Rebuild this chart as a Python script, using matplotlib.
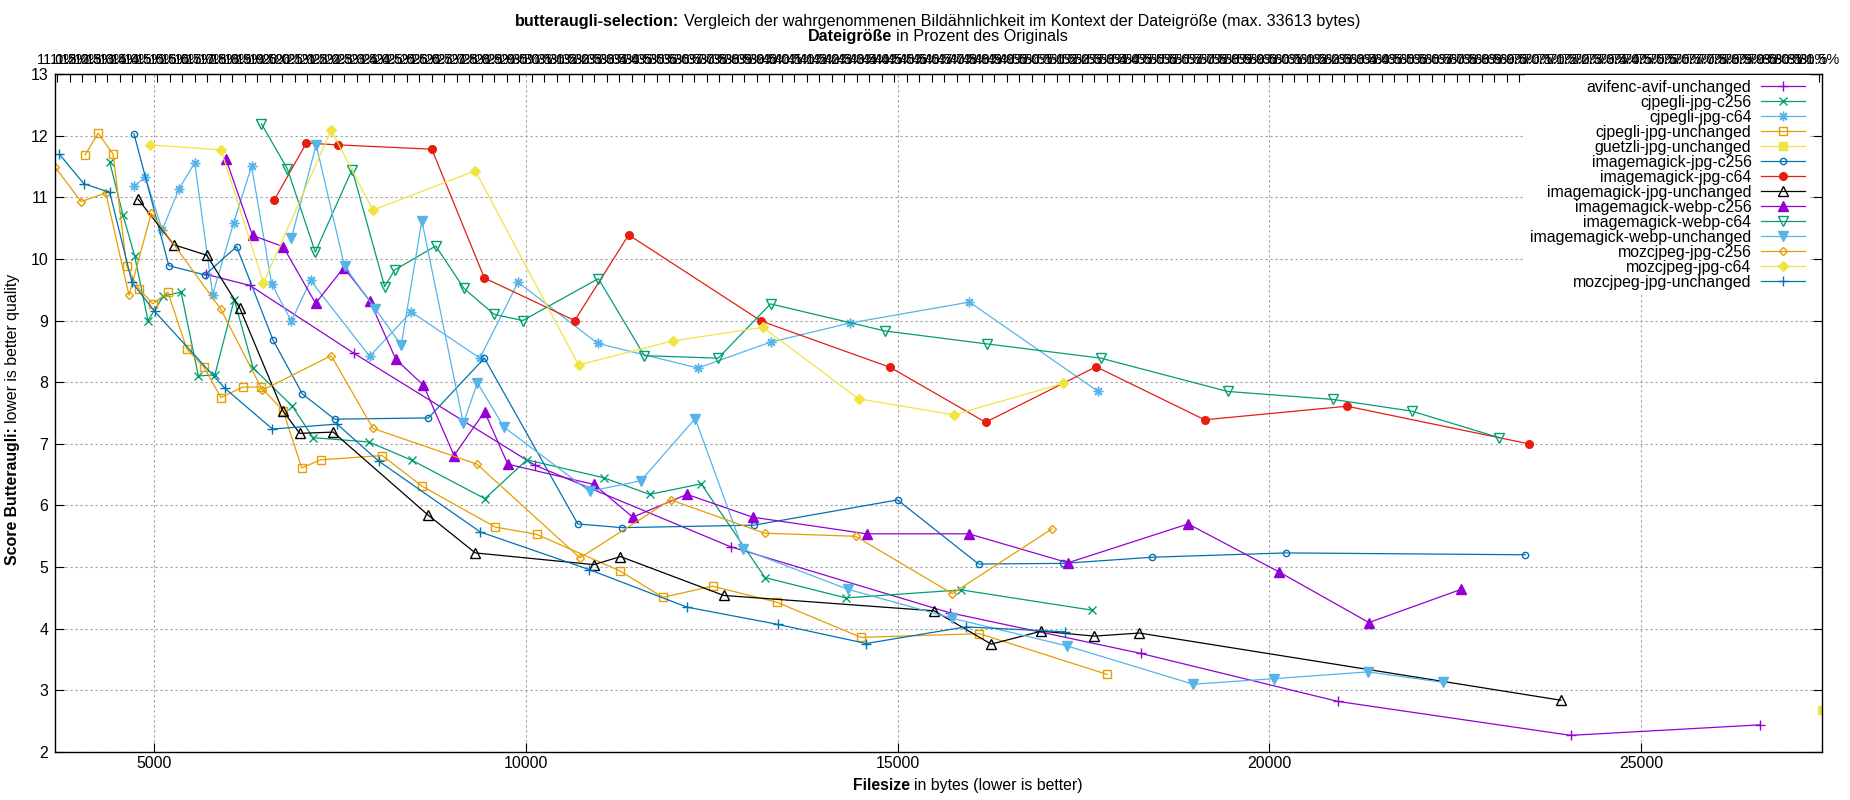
import numpy as np
import matplotlib
matplotlib.use("Agg")
import matplotlib.pyplot as plt

plt.rcParams['font.family'] = ['Liberation Sans', 'DejaVu Sans']

MAX_BYTES = 33613

# --- data (filesize in bytes, butteraugli score) ---
avifenc_avif_unchanged_x = [5701, 6290, 7688, 10129, 12754, 15699, 18268, 20924, 24052, 26591]
avifenc_avif_unchanged_y = [9.75, 9.57, 8.47, 6.65, 5.33, 4.26, 3.60, 2.82, 2.27, 2.44]

cjpegli_jpg_c256_x = [4406, 4585, 4741, 4920, 5129, 5366, 5598, 5821, 6080, 6335, 6862, 7140,
                      7890, 8475, 9451, 10015, 11048, 11665, 12359, 13217, 14306, 15853, 17621]
cjpegli_jpg_c256_y = [11.57, 10.71, 10.05, 9.00, 9.40, 9.46, 8.10, 8.12, 9.34, 8.23, 7.61, 7.10,
                      7.03, 6.73, 6.11, 6.74, 6.45, 6.18, 6.35, 4.83, 4.50, 4.63, 4.30]

cjpegli_jpg_c64_x = [4732, 4884, 5112, 5335, 5549, 5790, 6071, 6313, 6585, 6848, 7107, 7902,
                     8460, 9383, 9897, 10967, 12315, 13292, 14362, 15967, 17696]
cjpegli_jpg_c64_y = [11.18, 11.33, 10.47, 11.13, 11.56, 9.42, 10.58, 11.50, 9.59, 8.99, 9.65, 8.42,
                     9.14, 8.39, 9.62, 8.63, 8.23, 8.65, 8.96, 9.30, 7.85]

cjpegli_jpg_unchanged_x = [4076, 4250, 4451, 4634, 4799, 4987, 5188, 5442, 5674, 5902, 6192, 6437,
                           6737, 6987, 7243, 8070, 8609, 9589, 10149, 11264, 11845, 12513, 13376,
                           14507, 16100, 17816]
cjpegli_jpg_unchanged_y = [11.69, 12.04, 11.70, 9.88, 9.51, 9.27, 9.46, 8.54, 8.24, 7.75, 7.92, 7.92,
                           7.54, 6.61, 6.74, 6.81, 6.31, 5.65, 5.53, 4.94, 4.51, 4.69, 4.43,
                           3.86, 3.92, 3.26]

guetzli_jpg_unchanged_x = [27431]
guetzli_jpg_unchanged_y = [2.68]

imagemagick_jpg_c256_x = [4732, 5201, 5688, 6112, 6603, 6996, 7429, 8691, 9444, 10700, 11295, 13068,
                          15000, 16089, 17230, 18421, 20222, 23439]
imagemagick_jpg_c256_y = [12.03, 9.89, 9.74, 10.20, 8.68, 7.81, 7.40, 7.42, 8.39, 5.70, 5.64, 5.68,
                          6.09, 5.05, 5.06, 5.16, 5.23, 5.20]

imagemagick_jpg_c64_x = [6621, 7049, 7478, 8737, 9444, 10658, 11384, 13169, 14902, 16183, 17670,
                         19129, 21045, 23487]
imagemagick_jpg_c64_y = [10.96, 11.88, 11.85, 11.78, 9.69, 9.00, 10.39, 8.99, 8.24, 7.35, 8.25,
                         7.39, 7.61, 7.00]

imagemagick_jpg_unchanged_x = [4786, 5268, 5710, 6156, 6732, 6960, 7411, 8691, 9322, 10915, 11274,
                               12662, 15493, 16259, 16932, 17646, 18253, 23920]
imagemagick_jpg_unchanged_y = [10.97, 10.23, 10.06, 9.20, 7.54, 7.17, 7.19, 5.84, 5.23, 5.04, 5.17,
                               4.54, 4.29, 3.75, 3.96, 3.88, 3.93, 2.84]

imagemagick_webp_c256_x = [5969, 6326, 6737, 7174, 7554, 7902, 8254, 8625, 9036, 9446, 9759, 10919,
                           11439, 12169, 13052, 14584, 15956, 17292, 18908, 20132, 21339, 22581]
imagemagick_webp_c256_y = [11.62, 10.38, 10.20, 9.28, 9.86, 9.32, 8.37, 7.95, 6.81, 7.52, 6.67, 6.34,
                           5.81, 6.18, 5.81, 5.54, 5.54, 5.07, 5.70, 4.92, 4.10, 4.64]

imagemagick_webp_c64_x = [6446, 6795, 7170, 7665, 8103, 8237, 8790, 9170, 9576, 9959, 10977, 11595,
                          12588, 13292, 14835, 16209, 17732, 19437, 20857, 21915, 23091]
imagemagick_webp_c64_y = [12.19, 11.46, 10.11, 11.45, 9.55, 9.82, 10.21, 9.52, 9.10, 9.00, 9.68, 8.43,
                          8.39, 9.27, 8.83, 8.62, 8.39, 7.85, 7.72, 7.53, 7.10]

imagemagick_webp_unchanged_x = [6848, 7183, 7563, 7978, 8326, 8603, 9161, 9350, 9707, 10858, 11547,
                                12279, 12919, 14332, 15735, 17282, 18974, 20066, 21327, 22335]
imagemagick_webp_unchanged_y = [10.34, 11.85, 9.88, 9.19, 8.60, 10.62, 7.33, 7.99, 7.27, 6.23, 6.40,
                                7.41, 5.29, 4.64, 4.17, 3.72, 3.10, 3.19, 3.30, 3.13]

mozcjpeg_jpg_c256_x = [3670, 4022, 4353, 4665, 4964, 5897, 6460, 7384, 7946, 9344, 10729, 11948,
                       13212, 14435, 15735, 17076]
mozcjpeg_jpg_c256_y = [11.49, 10.93, 11.07, 9.41, 10.74, 9.19, 7.87, 8.43, 7.25, 6.67, 5.15, 6.09,
                       5.55, 5.50, 4.57, 5.62]

mozcjpeg_jpg_c64_x = [4951, 5902, 6473, 7384, 7946, 9321, 10710, 11980, 13189, 14475, 15761, 17223]
mozcjpeg_jpg_c64_y = [11.85, 11.77, 9.61, 12.09, 10.79, 11.43, 8.28, 8.67, 8.89, 7.73, 7.47, 7.98]

mozcjpeg_jpg_unchanged_x = [3728, 4058, 4406, 4705, 5009, 5955, 6594, 7464, 8022, 9389, 10853,
                            12169, 13392, 14579, 15915, 17251]
mozcjpeg_jpg_unchanged_y = [11.70, 11.22, 11.08, 9.62, 9.15, 7.90, 7.24, 7.32, 6.72, 5.57, 4.96,
                            4.35, 4.07, 3.76, 4.03, 3.95]

# (label, x, y, color, marker, filled, markersize)
series = [
    ("avifenc-avif-unchanged", avifenc_avif_unchanged_x, avifenc_avif_unchanged_y, '#9400D3', '+', True, 7),
    ("cjpegli-jpg-c256", cjpegli_jpg_c256_x, cjpegli_jpg_c256_y, '#009E73', 'x', True, 6),
    ("cjpegli-jpg-c64", cjpegli_jpg_c64_x, cjpegli_jpg_c64_y, '#56B4E9', (8, 2, 0), True, 7),
    ("cjpegli-jpg-unchanged", cjpegli_jpg_unchanged_x, cjpegli_jpg_unchanged_y, '#E69F00', 's', False, 5.5),
    ("guetzli-jpg-unchanged", guetzli_jpg_unchanged_x, guetzli_jpg_unchanged_y, '#F0E442', 's', True, 5.5),
    ("imagemagick-jpg-c256", imagemagick_jpg_c256_x, imagemagick_jpg_c256_y, '#0072B2', 'o', False, 4.5),
    ("imagemagick-jpg-c64", imagemagick_jpg_c64_x, imagemagick_jpg_c64_y, '#E51E10', 'o', True, 5.5),
    ("imagemagick-jpg-unchanged", imagemagick_jpg_unchanged_x, imagemagick_jpg_unchanged_y, '#000000', '^', False, 6.5),
    ("imagemagick-webp-c256", imagemagick_webp_c256_x, imagemagick_webp_c256_y, '#9400D3', '^', True, 7),
    ("imagemagick-webp-c64", imagemagick_webp_c64_x, imagemagick_webp_c64_y, '#009E73', 'v', False, 6.5),
    ("imagemagick-webp-unchanged", imagemagick_webp_unchanged_x, imagemagick_webp_unchanged_y, '#56B4E9', 'v', True, 7),
    ("mozcjpeg-jpg-c256", mozcjpeg_jpg_c256_x, mozcjpeg_jpg_c256_y, '#E69F00', 'D', False, 4.5),
    ("mozcjpeg-jpg-c64", mozcjpeg_jpg_c64_x, mozcjpeg_jpg_c64_y, '#F0E442', 'D', True, 5),
    ("mozcjpeg-jpg-unchanged", mozcjpeg_jpg_unchanged_x, mozcjpeg_jpg_unchanged_y, '#0072B2', '+', True, 7),
]

W, H = 1850, 800
FS = 11.4

fig = plt.figure(figsize=(W / 100, H / 100), dpi=100)
ax = fig.add_axes([55 / W, 48 / H, 1767 / W, 678 / H])

for label, xs, ys, col, mk, filled, ms in series:
    ax.plot(xs, ys, color=col, lw=0.9, marker=mk, ms=ms, mew=1.0,
            mfc=col if filled else 'none', mec=col, label=label)

all_x = [v for s in series for v in s[1]]
ax.set_xlim(min(all_x), max(all_x))
ax.set_ylim(2, 13)
ax.set_xticks(np.arange(5000, 25001, 5000))
ax.set_yticks(np.arange(2, 14, 1))
ax.tick_params(axis='both', direction='in', length=6.5, width=0.8, labelsize=FS)
ax.tick_params(axis='y', right=True, pad=5)
ax.tick_params(axis='x', pad=3)
ax.grid(True, color='#a0a0a0', linestyle=(0, (2, 2.5)), lw=0.8)
ax.set_axisbelow(True)
for sp in ax.spines.values():
    sp.set_linewidth(1.0)

# top axis: percent of the original file size
sec = ax.secondary_xaxis('top', functions=(lambda b: b / MAX_BYTES * 100,
                                           lambda p: p / 100 * MAX_BYTES))
pct = np.arange(11, 81.6, 0.5)
sec.set_xticks(pct)
sec.set_xticklabels([f"{p:.1f}%" for p in pct])
sec.tick_params(direction='in', length=6, width=0.8, labelsize=10.5, pad=5)

leg = ax.legend(loc='upper right', bbox_to_anchor=((1810 - 55) / 1767, 1 - 1 / 678),
                borderaxespad=0, markerfirst=False, frameon=True, fancybox=False,
                framealpha=1, edgecolor='none', facecolor='white', fontsize=FS,
                handlelength=2.8, handletextpad=0.6, labelspacing=0.0, borderpad=0.3)


def mixed_text(cx, cy, parts, size, vertical=False):
    # parts drawn side by side, centred on (cx, cy) in pixels from the top-left
    r = fig.canvas.get_renderer()
    widths = []
    for s, w in parts:
        t = fig.text(0, 0, s, fontsize=size, weight=w)
        widths.append(t.get_window_extent(r).width)
        t.remove()
    gap = size * 100 / 72 * 0.28
    total = sum(widths) + gap * (len(parts) - 1)
    pos = -total / 2
    for (s, w), wd in zip(parts, widths):
        if vertical:
            fig.text(cx / W, 1 - (cy - pos) / H, s, fontsize=size, weight=w, rotation=90,
                     rotation_mode='anchor', ha='left', va='baseline')
        else:
            fig.text((cx + pos) / W, 1 - cy / H, s, fontsize=size, weight=w,
                     ha='left', va='baseline')
        pos += wd + gap


mixed_text(938, 26, [("butteraugli-selection:", 'bold'),
                     ("Vergleich der wahrgenommenen Bildähnlichkeit im Kontext der Dateigröße (max. 33613 bytes)", 'normal')], 11.6)
mixed_text(938, 41, [("Dateigröße", 'bold'), ("in Prozent des Originals", 'normal')], 11.6)
mixed_text(968, 790, [("Filesize", 'bold'), ("in bytes (lower is better)", 'normal')], FS)
mixed_text(17.5, 419, [("Score Butteraugli:", 'bold'), ("lower is better quality", 'normal')], FS, vertical=True)

fig.savefig("out.png", dpi=100)
